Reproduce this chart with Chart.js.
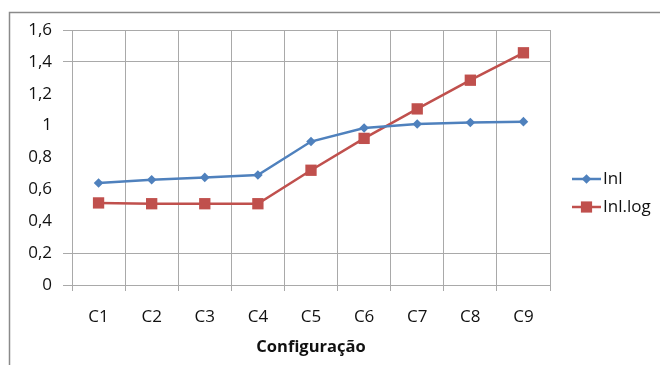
<!DOCTYPE html>
<html>
<head>
<meta charset="utf-8">
<script src="https://cdn.jsdelivr.net/npm/chart.js@4/dist/chart.umd.min.js"></script>
<style>
  html, body { margin: 0; padding: 0; background: #fff; }
  #wrap { width: 660px; height: 365px; position: relative; }
</style>
</head>
<body>
<div id="wrap"><canvas id="c" width="660" height="365"></canvas></div>
<script>
// Configurations on the x axis
const categories = ['C1', 'C2', 'C3', 'C4', 'C5', 'C6', 'C7', 'C8', 'C9'];
// Series values
const inl    = [0.64, 0.66, 0.675, 0.69, 0.90, 0.985, 1.01, 1.02, 1.025];
const inlLog = [0.515, 0.51, 0.51, 0.51, 0.72, 0.92, 1.105, 1.285, 1.457];
// Value axis tick labels (0 .. 1,6 in steps of 0,2)
const yTickLabels = ['0', '0,2', '0,4', '0,6', '0,8', '1', '1,2', '1,4', '1,6'];
// Horizontal grid lines that are drawn
const yGridShown = [0, 0.2, 1.4, 1.6];

const BLUE = '#4F81BD';
const RED = '#C0504D';
const GRID = '#a9a9a9';
const FONT = '"Open Sans", "DejaVu Sans", sans-serif';

function drawMarker(ctx, style, x, y, color) {
  ctx.save();
  ctx.fillStyle = color;
  ctx.beginPath();
  if (style === 'rectRot') {
    const r = 4.8;
    ctx.moveTo(x, y - r); ctx.lineTo(x + r, y); ctx.lineTo(x, y + r); ctx.lineTo(x - r, y);
    ctx.closePath();
  } else {
    const h = 5.6;
    ctx.rect(x - h, y - h, 2 * h, 2 * h);
  }
  ctx.fill();
  ctx.restore();
}

// Outer frame and side legend
const framePlugin = {
  id: 'frame',
  beforeDraw(chart) {
    const ctx = chart.ctx;
    ctx.save();
    ctx.fillStyle = '#fff';
    ctx.fillRect(0, 0, chart.width, chart.height);
    ctx.strokeStyle = '#8a8a8a';
    ctx.lineWidth = 1.5;
    ctx.strokeRect(9.5, 12.5, 700, 400);
    ctx.restore();
  },
  afterDraw(chart) {
    const ctx = chart.ctx;
    const rows = [179, 207];
    chart.data.datasets.forEach((ds, i) => {
      const y = rows[i];
      ctx.save();
      ctx.strokeStyle = ds.borderColor;
      ctx.lineWidth = 2.5;
      ctx.beginPath();
      ctx.moveTo(572, y);
      ctx.lineTo(601, y);
      ctx.stroke();
      ctx.restore();
      drawMarker(ctx, ds.pointStyle, 586.5, y, ds.borderColor);
      ctx.save();
      ctx.fillStyle = '#111';
      ctx.font = '17px ' + FONT;
      ctx.textBaseline = 'middle';
      ctx.textAlign = 'left';
      ctx.fillText(ds.label, 603, y);
      ctx.restore();
    });
  }
};

new Chart(document.getElementById('c'), {
  type: 'line',
  data: {
    labels: categories,
    datasets: [
      {
        label: 'Inl',
        data: inl,
        borderColor: BLUE,
        backgroundColor: BLUE,
        borderWidth: 2.5,
        pointStyle: 'rectRot',
        pointRadius: 4.8,
        pointHoverRadius: 4.8,
        pointBorderWidth: 0,
        tension: 0
      },
      {
        label: 'Inl.log',
        data: inlLog,
        borderColor: RED,
        backgroundColor: RED,
        borderWidth: 2.5,
        pointStyle: 'rect',
        pointRadius: 8,
        pointHoverRadius: 8,
        pointBorderWidth: 0,
        tension: 0
      }
    ]
  },
  options: {
    responsive: false,
    animation: false,
    devicePixelRatio: 1,
    layout: { padding: { left: 0, top: 30, right: 110, bottom: 0 } },
    plugins: {
      legend: { display: false },
      tooltip: { enabled: false }
    },
    scales: {
      x: {
        offset: true,
        grid: { offset: true, color: GRID, lineWidth: 1, tickLength: 6, drawTicks: true },
        border: { color: GRID, width: 1 },
        ticks: { color: '#111', font: { family: FONT, size: 17 }, padding: 16 },
        title: {
          display: true,
          text: 'Configuração',
          color: '#111',
          font: { family: FONT, size: 16.5, weight: 'bold' },
          padding: { top: 0, bottom: 8 }
        },
        afterFit(scale) { scale.height = 80; }
      },
      y: {
        min: 0,
        max: 1.6,
        ticks: {
          stepSize: 0.2,
          color: '#111',
          font: { family: FONT, size: 17 },
          padding: 11,
          callback: (v, i) => yTickLabels[i]
        },
        grid: {
          tickLength: 9,
          lineWidth: 1,
          color: (ctx) => {
            const v = ctx.tick ? Math.round(ctx.tick.value * 10) / 10 : null;
            return yGridShown.includes(v) ? GRID : 'rgba(0,0,0,0)';
          }
        },
        border: { color: GRID, width: 1 },
        afterFit(scale) { scale.width = 72; }
      }
    }
  },
  plugins: [framePlugin]
});
</script>
</body>
</html>
